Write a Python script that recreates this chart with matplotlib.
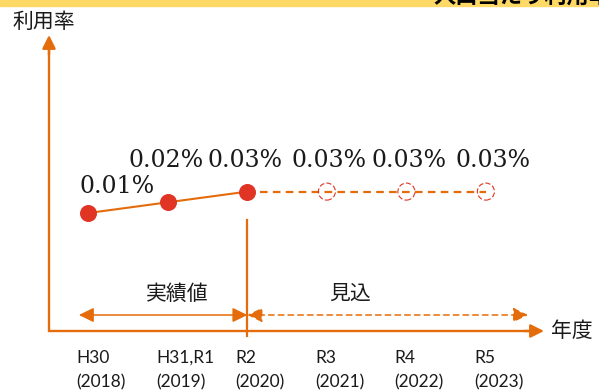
import matplotlib
matplotlib.use("Agg")
import matplotlib.pyplot as plt
from matplotlib.patches import Rectangle

# ---- data -------------------------------------------------------------
tick_top = ["H30", "H31,R1", "R2", "R3", "R4", "R5"]
tick_bottom = ["(2018)", "(2019)", "(2020)", "(2021)", "(2022)", "(2023)"]
actual_idx = [0, 1, 2]
actual_rate = [0.01, 0.02, 0.03]          # 実績値 (%)
forecast_idx = [2, 3, 4, 5]
forecast_rate = [0.03, 0.03, 0.03, 0.03]  # 見込 (%)
forecast_circle_idx = [3, 4, 5]
forecast_circle_rate = [0.03, 0.03, 0.03]
value_labels = ["0.01%", "0.02%", "0.03%", "0.03%", "0.03%", "0.03%"]
label_idx = [0, 1, 2, 3, 4, 5]
label_rate = [0.01, 0.02, 0.03, 0.03, 0.03, 0.03]

# label offsets (pixels: right, up from the point)
label_off = [(29, 20), (-2, 35), (-2, 25), (2, 25), (3, 25), (7, 25)]

ORANGE = "#E46C0A"
RED = "#E03424"
TXT = "#1a1a1a"
CJK = ["Noto Sans CJK JP", "DejaVu Sans"]

W, H = 599, 390
plt.rcParams["lines.scale_dashes"] = False
fig = plt.figure(figsize=(W / 100, H / 100), dpi=100)
ax = fig.add_axes([0, 0, 1, 1])
ax.axis("off")

# category axis: index i sits at 88.4 + 79.5*i px; rate 0.01 per 10.7 px
px0, step = 88.4, 79.5
ax.set_xlim(-px0 / step, (W - px0) / step)
ax.set_ylim(0.01 - 177 / 1070, 0.01 + 213 / 1070)


def fx(p):
    return p / W


def fy(p):
    return 1 - p / H


T = ax.transAxes

# banner strip at the top
fig.patches.append(Rectangle((0, fy(6)), 1, 6 / H, transform=fig.transFigure,
                             color="#FFD966", zorder=0))
fig.text(fx(433), fy(4), "人口当たり利用率", family=CJK, fontsize=16,
         fontweight="bold", color="black", ha="left", va="baseline")

# axes with arrow heads
ax.plot([fx(49), fx(49), fx(535)], [fy(46), fy(331), fy(331)], transform=T,
        color=ORANGE, lw=1.7, solid_joinstyle="miter", solid_capstyle="butt")
head = dict(arrowstyle="-|>,head_length=0.4,head_width=0.2", color=ORANGE,
            lw=1.7, shrinkA=0, shrinkB=0, mutation_scale=20)
ax.annotate("", xy=(fx(49), fy(35)), xytext=(fx(49), fy(55)),
            xycoords=T, textcoords=T, arrowprops=head)
ax.annotate("", xy=(fx(544), fy(331)), xytext=(fx(524), fy(331)),
            xycoords=T, textcoords=T, arrowprops=head)

ax.text(fx(12), fy(22), "利用率", transform=T, family=CJK, fontsize=15,
        color=TXT, ha="left", va="center")
ax.text(fx(551), fy(331), "年度", transform=T, family=CJK, fontsize=15,
        color=TXT, ha="left", va="center")

# divider between results and forecast
ax.plot([2, 2], [fy(220), fy(336)], transform=ax.get_xaxis_transform(),
        color=ORANGE, lw=1.6)

# period arrows
solid_both = dict(arrowstyle="<|-|>,head_length=0.45,head_width=0.22",
                  color=ORANGE, lw=1.1, shrinkA=0, shrinkB=0,
                  mutation_scale=20)
xt = ax.get_xaxis_transform()
ax.annotate("", xy=(2, fy(315)), xytext=(-0.12, fy(315)),
            xycoords=xt, textcoords=xt, arrowprops=solid_both)
dash_both = dict(solid_both, linestyle=(0, (4, 3)))
ax.annotate("", xy=(5.53, fy(315)), xytext=(2, fy(315)),
            xycoords=xt, textcoords=xt, arrowprops=dash_both)
ax.text(fx(177), fy(294), "実績値", transform=T, family=CJK, fontsize=15,
        color=TXT, ha="center", va="center")
ax.text(fx(350), fy(294), "見込", transform=T, family=CJK, fontsize=15,
        color=TXT, ha="center", va="center")

# series
ax.plot(actual_idx, actual_rate, color=ORANGE, lw=1.5, zorder=3)
ax.plot(forecast_idx, forecast_rate, color=ORANGE, lw=1.6,
        dashes=(5.5, 3.8), zorder=3)
ax.scatter(actual_idx, actual_rate, s=150, color=RED, zorder=4,
           linewidths=0)
ax.scatter(forecast_circle_idx, forecast_circle_rate, s=150,
           facecolors="none", edgecolors=RED, linewidths=0.8,
           linestyles="--", zorder=4)

for i, v, lab, (dx, dy) in zip(label_idx, label_rate, value_labels, label_off):
    ax.annotate(lab, xy=(i, v), xytext=(dx * 0.72, dy * 0.72),
                textcoords="offset points", ha="center", va="baseline",
                family="DejaVu Serif", fontsize=17, color=TXT)

# category labels
for i, (top, bot) in enumerate(zip(tick_top, tick_bottom)):
    ax.text(i - 0.15, fy(363), top, transform=xt, family="Lato",
            fontsize=12.5, color=TXT, ha="left", va="baseline")
    ax.text(i - 0.15, fy(387), bot, transform=xt, family="Lato",
            fontsize=12.5, color=TXT, ha="left", va="baseline")

fig.savefig("out.png", dpi=100)
